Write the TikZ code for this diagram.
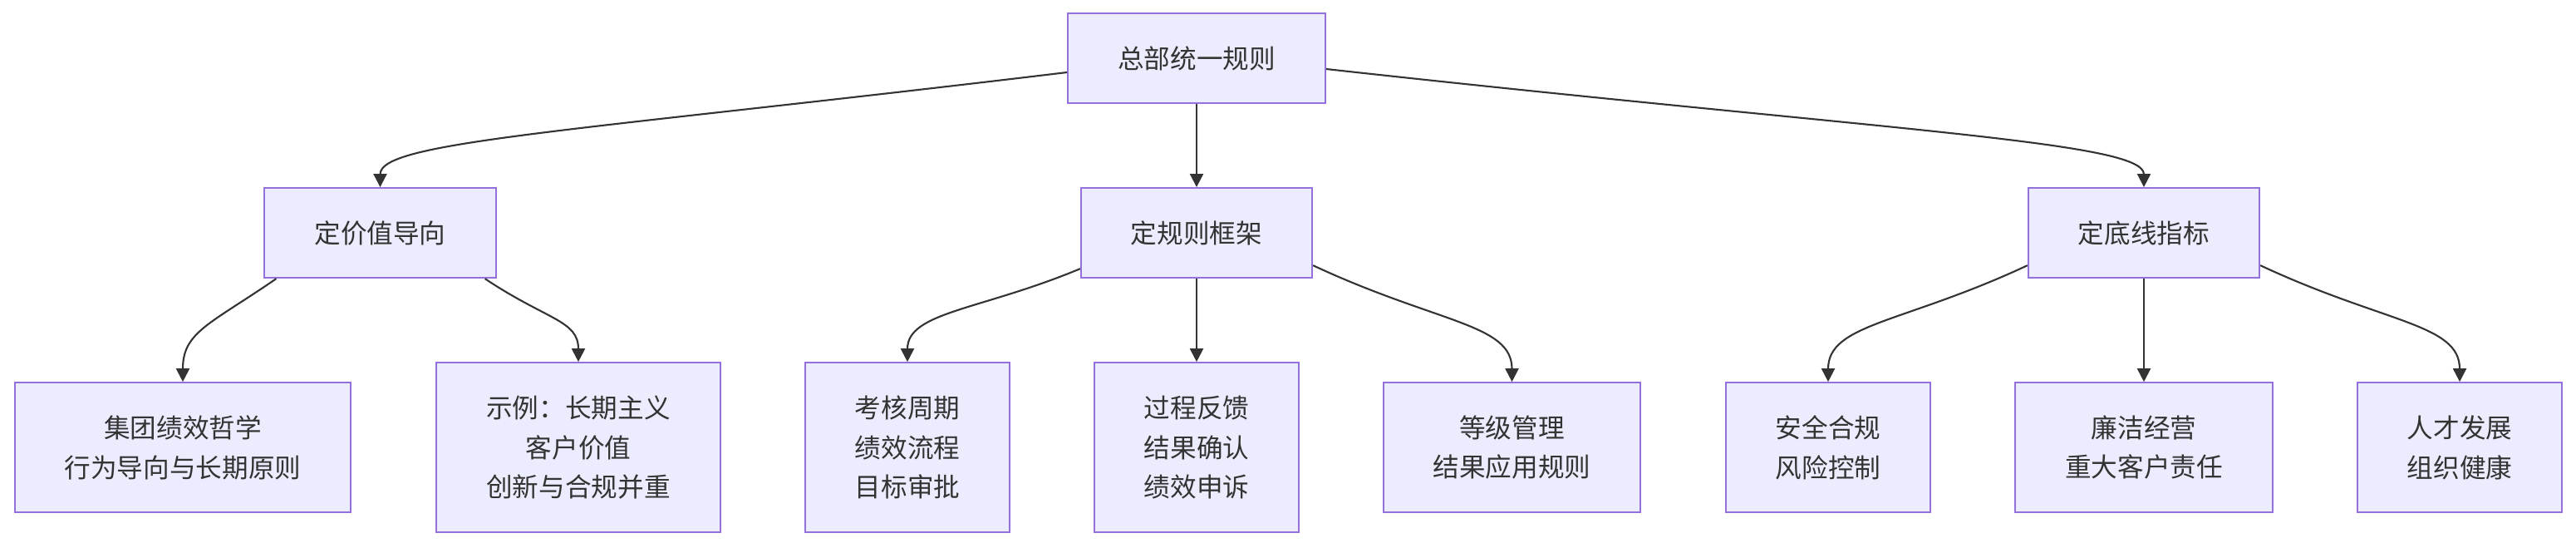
\documentclass[tikz,border=0pt]{standalone}
\usepackage{fontspec}
\newfontfamily\cjkfont{Noto Sans CJK SC}
\usetikzlibrary{arrows.meta, positioning}
\definecolor{boxfill}{HTML}{ECECFF}
\definecolor{boxline}{HTML}{9370DB}
\definecolor{inkgray}{HTML}{333333}

\begin{document}
\begin{tikzpicture}[
  box/.style={rectangle, draw=boxline, fill=boxfill, line width=0.6pt,
              text=inkgray, font=\cjkfont\fontsize{9pt}{13.5pt}\selectfont,
              inner xsep=0.6cm, inner ysep=0.3cm, align=center},
  headbox/.style={box, minimum height=1.08cm},
  grp/.style={box, minimum height=1.08cm},
  leaf/.style={box, minimum height=1.56cm},
  leafiii/.style={box, minimum height=2.04cm},
  arr/.style={-{Triangle[length=0.16cm,width=0.16cm]}, line width=0.6pt, color=inkgray},
]
\useasboundingbox (0,0) rectangle (31,-6.52);

%% ROOT
\node[headbox] (root) at (14.40,-0.70) {总部统一规则};

%% --- SECOND ROW ---
\node[grp, below=1.00cm of root, xshift=-9.825cm] (val) {定价值导向};
\node[grp, below=1.00cm of root]                  (rul) {定规则框架};
\node[grp, below=1.00cm of root, xshift=11.40cm]  (bot) {定底线指标};

%% --- LEAVES: value ---
\node[leaf,    below=1.24cm of val, xshift=-2.375cm] (phil) {集团绩效哲学\\行为导向与长期原则};
\node[leafiii, below=1.00cm of val, xshift=2.385cm]  (expl) {示例：长期主义\\客户价值\\创新与合规并重};

%% --- LEAVES: rules ---
\node[leafiii, below=1.00cm of rul, xshift=-3.48cm] (cyc)  {考核周期\\绩效流程\\目标审批};
\node[leafiii, below=1.00cm of rul]                 (fdbk) {过程反馈\\结果确认\\绩效申诉};
\node[leaf,    below=1.24cm of rul, xshift=3.795cm] (grade) {等级管理\\结果应用规则};

%% --- LEAVES: baseline ---
\node[leaf, below=1.24cm of bot, xshift=-3.80cm] (safe)  {安全合规\\风险控制};
\node[leaf, below=1.24cm of bot]                 (clean) {廉洁经营\\重大客户责任};
\node[leaf, below=1.24cm of bot, xshift=3.80cm]  (talent) {人才发展\\组织健康};

%% Arrows from root
\draw[arr] ([yshift=-0.17cm]root.west) .. controls +(-6.0,-0.72) and +(0,0.55) .. (val.north);
\draw[arr] (root.south) -- (rul.north);
\draw[arr] ([yshift=-0.13cm]root.east) .. controls +(6.8,-0.75) and +(0,0.55) .. (bot.north);

%% Value children
\draw[arr] ([xshift=0.15cm]val.south west) .. controls +(-0.8,-0.55) and +(0,0.6) .. (phil.north);
\draw[arr] ([xshift=-0.14cm]val.south east) .. controls +(0.75,-0.5) and +(0,0.5) .. (expl.north);

%% Rules children
\draw[arr] ([yshift=0.12cm]rul.south west) .. controls +(-1.2,-0.5) and +(0,0.6) .. (cyc.north);
\draw[arr] (rul.south) -- (fdbk.north);
\draw[arr] ([yshift=0.16cm]rul.south east) .. controls +(1.5,-0.7) and +(0,0.7) .. (grade.north);

%% Baseline children
\draw[arr] ([yshift=0.16cm]bot.south west) .. controls +(-1.5,-0.7) and +(0,0.7) .. (safe.north);
\draw[arr] (bot.south) -- (clean.north);
\draw[arr] ([yshift=0.16cm]bot.south east) .. controls +(1.5,-0.7) and +(0,0.7) .. (talent.north);

\end{tikzpicture}
\end{document}
